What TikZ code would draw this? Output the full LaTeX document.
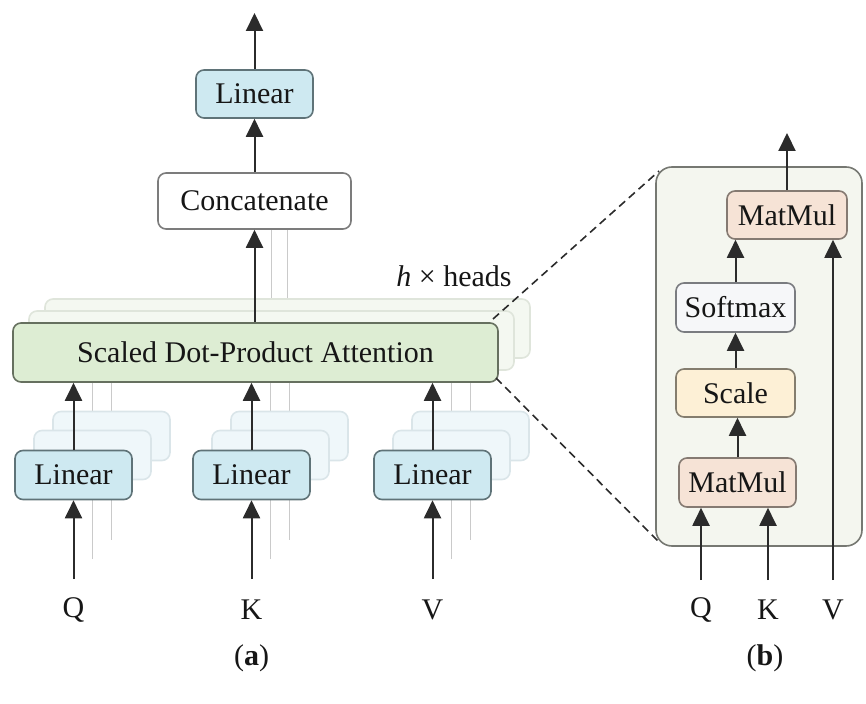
\documentclass[tikz,border=0pt]{standalone}
\usepackage{fontspec}
\setmainfont{Liberation Serif}
\usetikzlibrary{arrows.meta}

\definecolor{linfill}{HTML}{CEE9F1}
\definecolor{linedge}{HTML}{5F7378}
\definecolor{linghost}{HTML}{EFF7FA}
\definecolor{linghostedge}{HTML}{DAE5E9}
\definecolor{attfill}{HTML}{DDEDD3}
\definecolor{attedge}{HTML}{66705F}
\definecolor{attghost}{HTML}{F4F8F1}
\definecolor{attghostedge}{HTML}{DFE5DB}
\definecolor{catedge}{HTML}{7C7C7C}
\definecolor{mmfill}{HTML}{F6E3D6}
\definecolor{mmedge}{HTML}{857A72}
\definecolor{scfill}{HTML}{FDF0D6}
\definecolor{scedge}{HTML}{847D6E}
\definecolor{smfill}{HTML}{F6F7F9}
\definecolor{smedge}{HTML}{7A7C80}
\definecolor{panelfill}{HTML}{F4F6EF}
\definecolor{paneledge}{HTML}{767872}
\definecolor{stem}{HTML}{2B2B2B}
\definecolor{ghostline}{HTML}{CACACA}
\definecolor{ink}{HTML}{161616}

\tikzset{
  bw/.style={minimum width=#1*0.5pt},
  bh/.style={minimum height=#1*0.5pt},
  box/.style={draw, rounded corners=4pt, line width=0.8pt, inner sep=0pt,
              text=ink, font=\fontsize{15}{18}\selectfont},
  linbox/.style={box, fill=linfill, draw=linedge, bw=117, bh=49},
  linshade/.style={box, fill=linghost, draw=linghostedge, bw=117, bh=49},
  attbox/.style={box, fill=attfill, draw=attedge, bw=485, bh=59},
  attshade/.style={box, fill=attghost, draw=attghostedge, bw=485, bh=59},
  catbox/.style={box, fill=white, draw=catedge, bw=193, bh=56},
  mmbox/.style={box, fill=mmfill, draw=mmedge},
  scbox/.style={box, fill=scfill, draw=scedge},
  smbox/.style={box, fill=smfill, draw=smedge},
  panelbox/.style={draw=paneledge, fill=panelfill, rounded corners=8pt,
                   line width=0.8pt, inner sep=0pt},
  arr/.style={draw=stem, line width=1pt,
              -{Triangle[length=9pt,width=8.5pt]}},
  ghost/.style={draw=ghostline, line width=0.8pt},
  zoomline/.style={draw=stem, line width=0.8pt, dash pattern=on 4pt off 2.5pt},
  lbl/.style={text=ink, inner sep=0pt, font=\fontsize{15}{18}\selectfont}
}

\begin{document}
\begin{tikzpicture}[x=0.5pt, y=-0.5pt]
\useasboundingbox (0,0) rectangle (866,704);

% ---------- (b): scaled dot-product attention panel ----------
\node[panelbox, bw=206, bh=379] (panel) at (759,356.5) {};

% ---------- (a): gray connectors of the stacked heads ----------
\coordinate (qg2) at (92.5,559);  \coordinate (qg3) at (111.5,540);
\coordinate (kg2) at (270.5,559); \coordinate (kg3) at (289.5,540);
\coordinate (vg2) at (451.5,559); \coordinate (vg3) at (470.5,540);
\coordinate (cg2) at (271.5,229); \coordinate (cg3) at (287.5,229);
\coordinate (sg2) at (271.5,340); \coordinate (sg3) at (287.5,328);
\draw[ghost] (qg2) -- (92.5,370);  \draw[ghost] (qg3) -- (111.5,358);
\draw[ghost] (kg2) -- (270.5,370); \draw[ghost] (kg3) -- (289.5,358);
\draw[ghost] (vg2) -- (451.5,370); \draw[ghost] (vg3) -- (470.5,358);
\draw[ghost] (cg2) -- (sg2);
\draw[ghost] (cg3) -- (sg3);

% stacked copies behind the front layer
\node[attshade] (s3) at (287.5,328.5) {};
\node[attshade] (s2) at (271.5,340.5) {};
\node[linshade] (q3) at (111.5,436) {};
\node[linshade] (q2) at (92.5,455) {};
\node[linshade] (k3) at (289.5,436) {};
\node[linshade] (k2) at (270.5,455) {};
\node[linshade] (v3) at (470.5,436) {};
\node[linshade] (v2) at (451.5,455) {};

% front layer
\node[attbox] (sdpa) at (255.5,352.5) {Scaled Dot-Product Attention};
\node[linbox] (lq) at (73.5,475) {Linear};
\node[linbox] (lk) at (251.5,475) {Linear};
\node[linbox] (lv) at (432.5,475) {Linear};
\node[catbox] (concat) at (254.5,201) {Concatenate};
\node[linbox, bh=48] (ltop) at (254.5,94) {Linear};

\node[lbl, anchor=base] (heads) at (454,287) {\textit{h} × heads};

% inputs
\node[lbl] (qa) at (73.5,610) {Q};
\node[lbl] (ka) at (251.5,610) {K};
\node[lbl] (va) at (432.5,610) {V};
\coordinate (qin) at (73.5,579);
\coordinate (kin) at (251.5,579);
\coordinate (vin) at (432.5,579);
\coordinate (outa) at (254.5,13);

\draw[arr] (qin) -- (lq.south);
\draw[arr] (kin) -- (lk.south);
\draw[arr] (vin) -- (lv.south);
\draw[arr] (lq.north) -- (lq.north |- sdpa.south);
\draw[arr] (lk.north) -- (lk.north |- sdpa.south);
\draw[arr] (lv.north) -- (lv.north |- sdpa.south);
\draw[arr] (concat.south |- sdpa.north) -- (concat.south);
\draw[arr] (concat.north) -- (ltop.south);
\draw[arr] (ltop.north) -- (outa);

% ---------- (b): contents ----------
\node[mmbox, bw=120, bh=48] (mmtop) at (787,215) {MatMul};
\node[smbox, bw=119, bh=49] (soft) at (735.5,307.5) {Softmax};
\node[scbox, bw=119, bh=48] (scale) at (735.5,393) {Scale};
\node[mmbox, bw=117, bh=49] (mmbot) at (737.5,482.5) {MatMul};

\node[lbl] (qb) at (701,610) {Q};
\node[lbl] (kb) at (768,610) {K};
\node[lbl] (vb) at (833,610) {V};
\coordinate (qinb) at (701,580);
\coordinate (kinb) at (768,580);
\coordinate (vinb) at (833,580);
\coordinate (outb) at (787,133);

\draw[arr] (qinb) -- (qinb |- mmbot.south);
\draw[arr] (kinb) -- (kinb |- mmbot.south);
\draw[arr] (vinb) -- (vinb |- mmtop.south);
\draw[arr] (mmbot.north) -- (mmbot.north |- scale.south);
\draw[arr] (scale.north) -- (scale.north |- soft.south);
\draw[arr] (soft.north) -- (soft.north |- mmtop.south);
\draw[arr] (mmtop.north) -- (outb);

% zoom guides from the attention block to the panel
\coordinate (zt1) at (493,319);
\coordinate (zt2) at (659,171);
\coordinate (zb1) at (496,378);
\coordinate (zb2) at (659,542);
\draw[zoomline] (zt1) -- (zt2);
\draw[zoomline] (zb1) -- (zb2);

% captions
\node[lbl] (capa) at (251.5,658) {(\textbf{a})};
\node[lbl] (capb) at (765,658) {(\textbf{b})};
\end{tikzpicture}
\end{document}
